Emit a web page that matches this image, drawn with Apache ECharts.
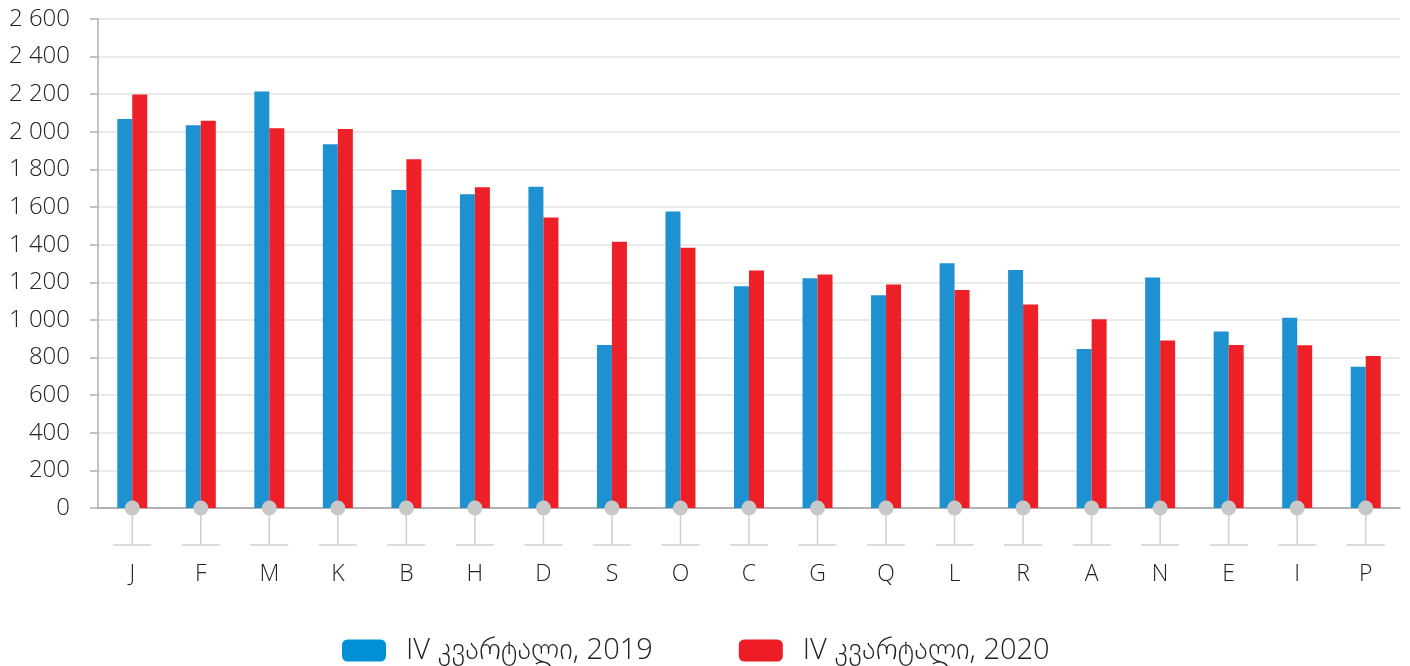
<!DOCTYPE html>
<html>
<head>
<meta charset="utf-8">
<script src="https://cdn.jsdelivr.net/npm/echarts@6/dist/echarts.min.js"></script>
<style>
html,body{margin:0;padding:0;background:#fff;}
#chart{width:1410px;height:666px;}
</style>
</head>
<body>
<div id="chart"></div>
<script>
const categories = ['J','F','M','K','B','H','D','S','O','C','G','Q','L','R','A','N','E','I','P'];
const series2019 = [2068,2035,2214,1934,1691,1668,1708,867,1577,1179,1221,1131,1301,1266,846,1225,938,1012,751];
const series2020 = [2198,2059,2019,2015,1854,1705,1545,1416,1384,1263,1241,1188,1159,1082,1003,891,867,866,808];
const seriesNames = ['IV კვარტალი, 2019','IV კვარტალი, 2020'];
const yTicks = {min:0, max:2600, interval:200};

const FONT = '"Open Sans", "DejaVu Sans", sans-serif';
const chart = echarts.init(document.getElementById('chart'));

function fmt(v){
  return String(v).replace(/\B(?=(\d{3})+(?!\d))/g, ' ');
}

chart.setOption({
  animation:false,
  backgroundColor:'#fff',
  grid:{left:98,right:10,top:19,bottom:158,containLabel:false},
  legend:{
    top:631,
    left:337,
    itemWidth:44,
    itemHeight:22,
    itemGap:86,
    icon:'roundRect',
    textStyle:{fontSize:29,color:'#222',fontFamily:FONT,fontWeight:300,padding:[0,0,0,15]},
    data:[
      {name:seriesNames[0],itemStyle:{color:'#0090d8'}},
      {name:seriesNames[1],itemStyle:{color:'#ee1c25'}}
    ]
  },
  xAxis:{
    type:'category',
    data:categories,
    axisLine:{show:true,lineStyle:{color:'#a0a0a0',width:1.5}},
    axisTick:{show:false},
    axisLabel:{margin:55,fontSize:23,color:'#222',fontFamily:FONT,fontWeight:300}
  },
  yAxis:{
    type:'value',
    min:yTicks.min,max:yTicks.max,interval:yTicks.interval,
    axisLine:{show:true,lineStyle:{color:'#b0b0b0',width:1.5}},
    axisTick:{show:true,length:8,lineStyle:{color:'#b0b0b0',width:1.5}},
    splitLine:{show:true,lineStyle:{color:'#e3e3e3',width:1.5}},
    axisLabel:{margin:28,fontSize:24,color:'#222',fontFamily:FONT,fontWeight:300,formatter:fmt}
  },
  series:[
    {
      name:seriesNames[0],type:'bar',data:series2019,barWidth:15,barGap:'0%',
      itemStyle:{color:'#1e92d1'},z:2
    },
    {
      name:seriesNames[1],type:'bar',data:series2020,barWidth:15,barGap:'0%',
      itemStyle:{color:'#ee2027'},z:2
    },
    {
      name:'deco',type:'custom',silent:true,clip:false,z:5,
      data:categories.map((c,i)=>[i,0]),
      renderItem:function(params,api){
        const p = api.coord([api.value(0),api.value(1)]);
        const x = p[0], y = p[1];
        const st = {stroke:'#cfcfcf',lineWidth:1.5};
        return {
          type:'group',
          children:[
            {type:'line',shape:{x1:x,y1:y,x2:x,y2:y+37},style:st},
            {type:'line',shape:{x1:x-19,y1:y+37,x2:x+19,y2:y+37},style:st},
            {type:'circle',shape:{cx:x,cy:y,r:7.5},style:{fill:'#c8c8c8'}}
          ]
        };
      }
    }
  ]
});
</script>
</body>
</html>
